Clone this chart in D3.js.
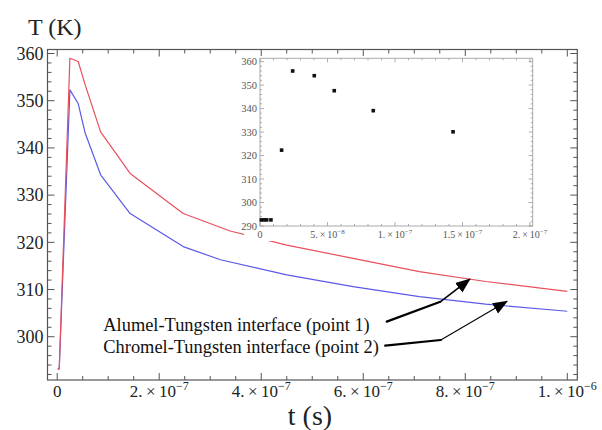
<!DOCTYPE html>
<html>
<head>
<meta charset="utf-8">
<script src="https://cdn.jsdelivr.net/npm/d3@7"></script>
<style>
  body { margin: 0; background: #fff; }
  svg text { font-family: "Liberation Serif", "Times New Roman", Times, "DejaVu Serif", serif; }
</style>
</head>
<body>
<div id="graphic"></div>
<script>
// time (s) and temperature (K)
const redTime = [0.1e-8, 0.4e-8, 2.49e-8, 4.12e-8, 5.5e-8, 8.51e-8, 1.43e-7, 2.47e-7, 3.39e-7, 4.5e-7, 5.8e-7, 7.1e-7, 8.4e-7, 1.0e-6];
const redTemp = [293.2, 293.2, 359.0, 358.3, 353.3, 343.4, 334.6, 326.1, 322.4, 319.4, 316.6, 313.8, 311.7, 309.6];
const blueTime = [0.1e-8, 0.4e-8, 2.49e-8, 4.12e-8, 5.5e-8, 8.51e-8, 1.43e-7, 2.47e-7, 3.2e-7, 4.5e-7, 5.8e-7, 7.1e-7, 8.4e-7, 1.0e-6];
const blueTemp = [293.2, 293.2, 352.3, 349.4, 343.1, 334.3, 326.1, 319.1, 316.3, 313.1, 310.6, 308.5, 306.9, 305.4];

// inset scatter
const insetTime = [0.1e-8, 0.3e-8, 0.5e-8, 0.81e-8, 1.6e-8, 2.42e-8, 4.02e-8, 5.5e-8, 8.39e-8, 1.43e-7];
const insetTemp = [292.6, 292.6, 292.6, 292.6, 322.3, 356.0, 354.0, 347.6, 339.1, 330.1];

const yTicks = [300, 310, 320, 330, 340, 350, 360];
const xTicks = [0, 2e-7, 4e-7, 6e-7, 8e-7, 1e-6];
const xTickLabels = [["0", ""], ["2.\u2009\u00d7\u200910", "\u22127"], ["4.\u2009\u00d7\u200910", "\u22127"], ["6.\u2009\u00d7\u200910", "\u22127"], ["8.\u2009\u00d7\u200910", "\u22127"], ["1.\u2009\u00d7\u200910", "\u22126"]];
const insetYTicks = [290, 300, 310, 320, 330, 340, 350, 360];
const insetXTicks = [0, 5e-8, 1e-7, 1.5e-7, 2e-7];
const insetXTickLabels = [["0", ""], ["5.\u2009\u00d7\u200910", "\u22128"], ["1.\u2009\u00d7\u200910", "\u22127"], ["1.5\u2009\u00d7\u200910", "\u22127"], ["2.\u2009\u00d7\u200910", "\u22127"]];

const annotations = [
	{ text: "Alumel-Tungsten interface (point 1)", t: 9.04e-8, T: 301.2, path: [[6.46e-7, 303.2], [7.51e-7, 307.4], [8.09e-7, 312.2]], w1: 2.2, w2: 1.6 },
	{ text: "Chromel-Tungsten interface (point 2)", t: 9.04e-8, T: 296.6, path: [[6.43e-7, 298.1], [7.52e-7, 299.3], [8.82e-7, 307.5]], w1: 2.2, w2: 1.1 }
];

const width = 602, height = 430;
const frame = "#555";
const serif = '"Liberation Serif", "Times New Roman", Times, serif';

const svg = d3.select('#graphic').append('svg')
	.attr('width', width)
	.attr('height', height)
	.attr('font-family', serif);

// main scales
const x = d3.scaleLinear().domain([-1.9e-8, 1.0196e-6]).range([47.5, 577.3]);
const y = d3.scaleLinear().domain([290.83, 360.85]).range([380, 49.5]);

const redData = redTime.map((t, i) => ({ t, T: redTemp[i] }));
const blueData = blueTime.map((t, i) => ({ t, T: blueTemp[i] }));

const line = d3.line().x(d => x(d.t)).y(d => y(d.T));

svg.append('path').datum(blueData)
	.attr('fill', 'none').attr('stroke', '#5a5ae6').attr('stroke-width', 1.2)
	.attr('stroke-linejoin', 'round').attr('d', line);
svg.append('path').datum(redData)
	.attr('fill', 'none').attr('stroke', '#e8505c').attr('stroke-width', 1.2)
	.attr('stroke-linejoin', 'round').attr('d', line);

// frame with inward ticks on all sides
const [x0, x1] = x.range();
const [y0, y1] = y.range();
svg.append('rect')
	.attr('x', x0).attr('y', y1).attr('width', x1 - x0).attr('height', y0 - y1)
	.attr('fill', 'none').attr('stroke', frame).attr('stroke-width', 1.2);

const xMinor = d3.range(0, 1.0001e-6, 5e-8);
const yMinor = d3.range(292, 361, 2);
const isMajorX = v => Math.abs(v / 2e-7 - Math.round(v / 2e-7)) < 1e-6;
const isMajorY = v => v % 10 === 0;

const ticks = svg.append('g').attr('stroke', frame).attr('stroke-width', 1);
xMinor.forEach(v => {
	const len = isMajorX(v) ? 7 : 4;
	ticks.append('line').attr('x1', x(v)).attr('x2', x(v)).attr('y1', y0).attr('y2', y0 - len);
	ticks.append('line').attr('x1', x(v)).attr('x2', x(v)).attr('y1', y1).attr('y2', y1 + len);
});
yMinor.forEach(v => {
	const len = isMajorY(v) ? 7 : 4;
	ticks.append('line').attr('x1', x0).attr('x2', x0 + len).attr('y1', y(v)).attr('y2', y(v));
	ticks.append('line').attr('x1', x1).attr('x2', x1 - len).attr('y1', y(v)).attr('y2', y(v));
});

// tick labels
svg.append('g').selectAll('text').data(yTicks).join('text')
	.attr('x', x0 - 4).attr('y', d => y(d)).attr('dy', '0.35em')
	.attr('text-anchor', 'end').attr('font-size', 18).attr('fill', '#222')
	.attr('font-family', serif)
	.text(d => d);

const xl = svg.append('g').selectAll('text').data(xTicks).join('text')
	.attr('x', d => x(d)).attr('y', 397)
	.attr('text-anchor', 'middle').attr('font-size', 17).attr('fill', '#222')
	.attr('font-family', serif);
xl.append('tspan').text((d, i) => xTickLabels[i][0]);
xl.append('tspan').attr('dy', -7).attr('font-size', 12).text((d, i) => xTickLabels[i][1]);

// axis titles
svg.append('text').attr('x', 28).attr('y', 35).attr('font-size', 24).attr('fill', '#222').attr('font-family', serif).text('T (K)');
svg.append('text').attr('x', 310).attr('y', 425).attr('text-anchor', 'middle').attr('font-size', 28).attr('fill', '#222').attr('font-family', serif).text('t (s)');

// annotations with arrows
svg.append('defs').append('marker')
	.attr('id', 'head').attr('viewBox', '0 -7 16 14')
	.attr('refX', 14).attr('refY', 0)
	.attr('markerWidth', 16).attr('markerHeight', 14)
	.attr('markerUnits', 'userSpaceOnUse').attr('orient', 'auto')
	.append('path').attr('d', 'M0,-6L15,0L0,6Z').attr('fill', '#000');

annotations.forEach(a => {
	svg.append('text').attr('x', x(a.t)).attr('y', y(a.T))
		.attr('font-size', 18.4).attr('fill', '#111').attr('font-family', serif).text(a.text);
	const p = a.path.map(([t, T]) => [x(t), y(T)]);
	svg.append('line').attr('x1', p[0][0]).attr('y1', p[0][1]).attr('x2', p[1][0]).attr('y2', p[1][1])
		.attr('stroke', '#000').attr('stroke-width', a.w1).attr('stroke-linecap', 'round');
	svg.append('line').attr('x1', p[1][0]).attr('y1', p[1][1]).attr('x2', p[2][0]).attr('y2', p[2][1])
		.attr('stroke', '#000').attr('stroke-width', a.w2).attr('marker-end', 'url(#head)');
});

// inset
const ix = d3.scaleLinear().domain([0, 2.02e-7]).range([260, 532.7]);
const iy = d3.scaleLinear().domain([290, 361.4]).range([226, 58.3]);
const inset = svg.append('g');
inset.append('rect').attr('x', 244).attr('y', 56).attr('width', 314).attr('height', 185).attr('fill', '#fff');
const [ix0, ix1] = ix.range();
const [iy0, iy1] = iy.range();
inset.append('rect')
	.attr('x', ix0).attr('y', iy1).attr('width', ix1 - ix0).attr('height', iy0 - iy1)
	.attr('fill', 'none').attr('stroke', '#aaa').attr('stroke-width', 1);

const iticks = inset.append('g').attr('stroke', '#999').attr('stroke-width', 0.8);
d3.range(0, 2.01e-7, 1e-8).forEach((v, i) => {
	const len = i % 5 === 0 ? 4 : 2;
	iticks.append('line').attr('x1', ix(v)).attr('x2', ix(v)).attr('y1', iy0).attr('y2', iy0 - len);
	iticks.append('line').attr('x1', ix(v)).attr('x2', ix(v)).attr('y1', iy1).attr('y2', iy1 + len);
});
d3.range(290, 361, 2).forEach(v => {
	const len = v % 10 === 0 ? 4 : 2;
	iticks.append('line').attr('x1', ix0).attr('x2', ix0 + len).attr('y1', iy(v)).attr('y2', iy(v));
	iticks.append('line').attr('x1', ix1).attr('x2', ix1 - len).attr('y1', iy(v)).attr('y2', iy(v));
});

inset.append('g').selectAll('text').data(insetYTicks).join('text')
	.attr('x', ix0 - 3).attr('y', d => iy(d)).attr('dy', '0.35em')
	.attr('text-anchor', 'end').attr('font-size', 10.5).attr('fill', '#555')
	.attr('font-family', serif)
	.text(d => d);
const ixl = inset.append('g').selectAll('text').data(insetXTicks).join('text')
	.attr('x', d => ix(d)).attr('y', 238)
	.attr('text-anchor', 'middle').attr('font-size', 10).attr('fill', '#555')
	.attr('font-family', serif);
ixl.append('tspan').text((d, i) => insetXTickLabels[i][0]);
ixl.append('tspan').attr('dy', -4).attr('font-size', 7).text((d, i) => insetXTickLabels[i][1]);

inset.append('g').selectAll('rect').data(insetTime.map((t, i) => ({ t, T: insetTemp[i] }))).join('rect')
	.attr('x', d => ix(d.t) - 1.8).attr('y', d => iy(d.T) - 1.8)
	.attr('width', 3.6).attr('height', 3.6).attr('fill', '#111');
</script>
</body>
</html>
